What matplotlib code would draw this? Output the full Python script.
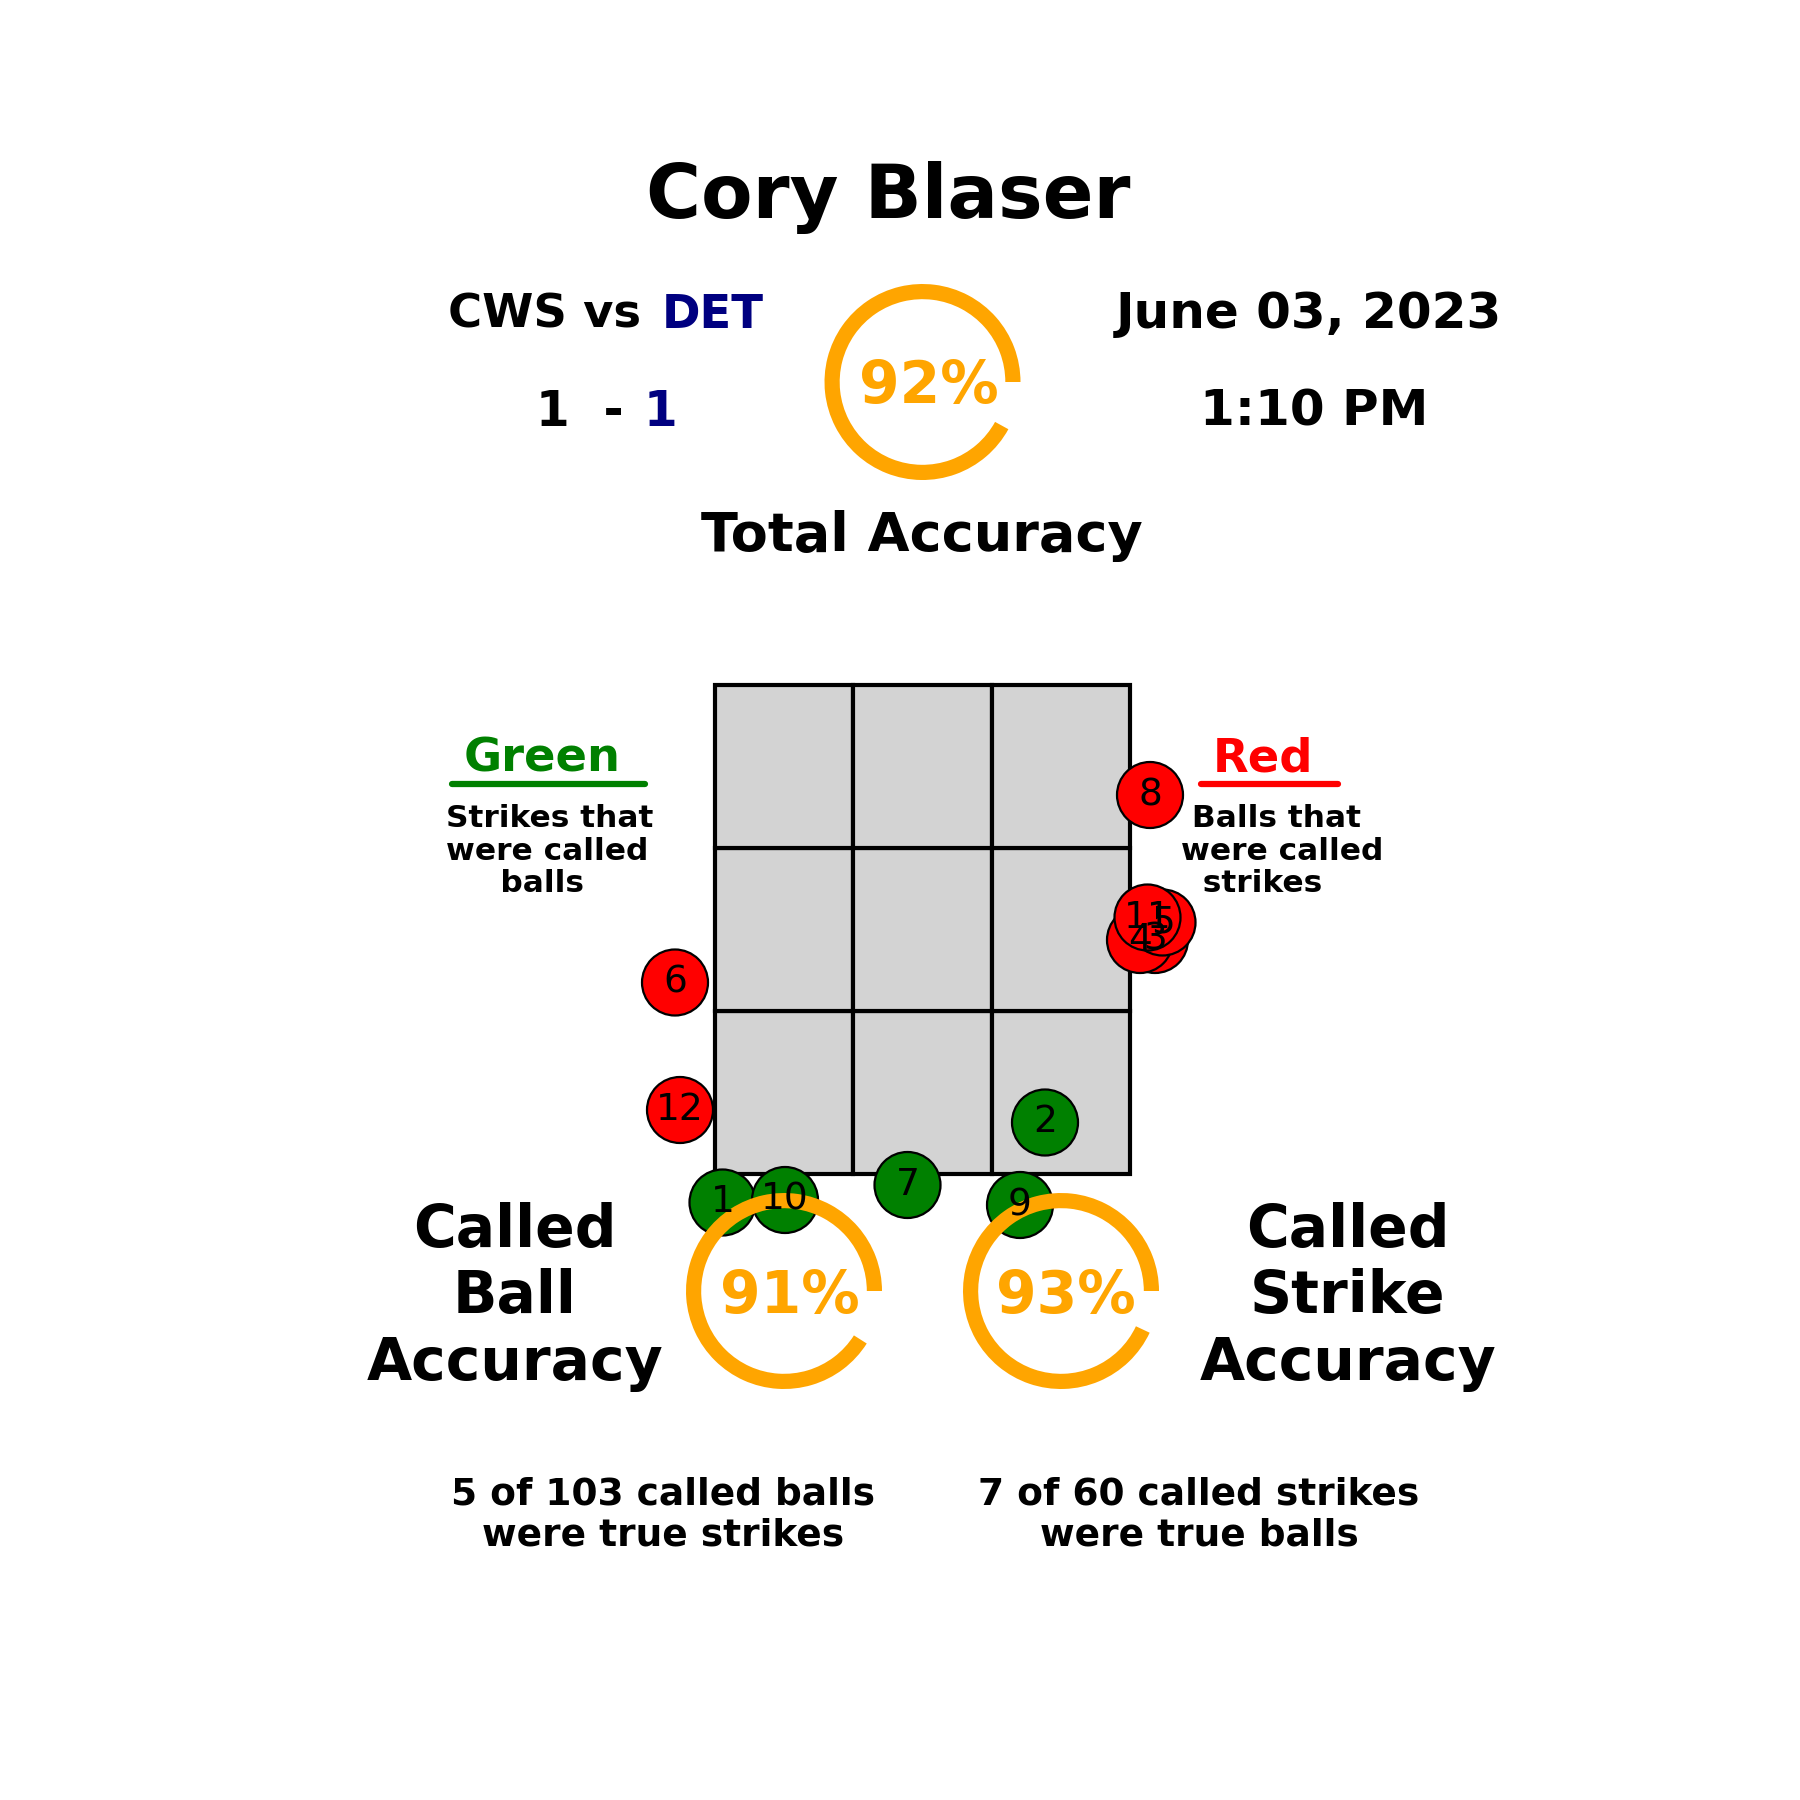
import matplotlib
matplotlib.use("Agg")
import matplotlib.pyplot as plt
from matplotlib.patches import Rectangle, Circle

# ---------------- data ----------------
umpire = "Cory Blaser"
away_team, home_team = "CWS", "DET"
away_score, home_score = 1, 1
game_date = "June 03, 2023"
game_time = "1:10 PM"

total_accuracy = 92
ball_accuracy = 91
strike_accuracy = 93
balls_wrong, balls_total = 5, 103
strikes_wrong, strikes_total = 7, 60

# missed calls (plate_x, plate_z in feet), numbered in order
pitch_ids = [1, 2, 3, 4, 5, 6, 7, 8, 9, 10, 11, 12]
plate_x = [-0.80, 0.49, 0.93, 0.87, 0.96, -0.99, -0.06, 0.91, 0.39, -0.55, 0.90, -0.97]
plate_z = [1.43, 1.75, 2.48, 2.48, 2.55, 2.31, 1.50, 3.06, 1.42, 1.44, 2.57, 1.80]
miss_type = ["S", "S", "B", "B", "B", "B", "S", "B", "S", "S", "B", "B"]  # S: true strike called ball

sz_left, sz_right = -0.83, 0.83
sz_bot, sz_top = 1.544, 3.50

# ---------------- figure ----------------
W = H = 1800
fig = plt.figure(figsize=(18, 18), dpi=100)
fig.patch.set_facecolor("white")


def fx(x):
    return x / W


def fy(y):
    return 1 - y / H


ORANGE = "#ffa500"
NAVY = "#000080"
GREEN = "#008000"
RED = "#ff0000"

# main strike-zone axes: 250 px per foot, centred on the plate
cx_px, ztop_px = 922.5, 685
ppf = 250.0
xlim = (-2.0, 2.0)
ylim = (0.5, 4.5)
ax_left = cx_px + xlim[0] * ppf
ax_top = ztop_px - (ylim[1] - sz_top) * ppf
ax_w = (xlim[1] - xlim[0]) * ppf
ax_h = (ylim[1] - ylim[0]) * ppf
rect = [fx(ax_left), fy(ax_top + ax_h), ax_w / W, ax_h / H]
ax = fig.add_axes(rect)
ax.set_xlim(*xlim)
ax.set_ylim(*ylim)
ax.set_aspect("equal")
ax.axis("off")

dx = (sz_right - sz_left) / 3
dz = (sz_top - sz_bot) / 3
for i in range(3):
    for j in range(3):
        ax.add_patch(Rectangle((sz_left + i * dx, sz_bot + j * dz), dx, dz,
                               facecolor="#d3d3d3", edgecolor="black", lw=3, zorder=1))

for x, z, t in zip(plate_x, plate_z, miss_type):
    ax.add_patch(Circle((x, z), 0.132, facecolor=GREEN if t == "S" else RED,
                        edgecolor="black", lw=1.6, zorder=2))

# accuracy rings


def ring(cx, cy, pct, r=98):
    a = fig.add_axes([fx(cx - r), fy(cy + r), 2 * r / W, 2 * r / H])
    a.pie([pct, 100 - pct], colors=[ORANGE, "none"], startangle=0,
          counterclock=True, radius=1, wedgeprops=dict(width=0.155, linewidth=0))
    a.set_xlim(-1, 1)
    a.set_ylim(-1, 1)
    a.set_aspect("equal")
    a.axis("off")
    return a


ring(922.5, 382, total_accuracy)
ring(784, 1291, ball_accuracy)
ring(1061, 1291, strike_accuracy)

# label overlay for the pitch numbers
ax2 = fig.add_axes(rect)
ax2.set_xlim(*xlim)
ax2.set_ylim(*ylim)
ax2.set_aspect("equal")
ax2.axis("off")
ax2.patch.set_alpha(0)
for pid, x, z in zip(pitch_ids, plate_x, plate_z):
    ax2.text(x, z, str(pid), ha="center", va="center", fontsize=27, color="black")

# ---------------- texts ----------------
B = dict(fontweight="bold", family="DejaVu Sans")
fig.text(fx(888), fy(218), umpire, ha="center", va="baseline", fontsize=54, **B)

fig.text(fx(641), fy(328), f"{away_team} vs", ha="right", va="baseline", fontsize=33.5, **B)
fig.text(fx(662), fy(328), home_team, ha="left", va="baseline", fontsize=33.5, color=NAVY, **B)
fig.text(fx(624), fy(426), f"{away_score}  -", ha="right", va="baseline", fontsize=35, **B)
fig.text(fx(644), fy(426), f"{home_score}", ha="left", va="baseline", fontsize=35, color=NAVY, **B)

fig.text(fx(1309), fy(328), game_date, ha="center", va="baseline", fontsize=36, **B)
fig.text(fx(1314), fy(426), game_time, ha="center", va="baseline", fontsize=36, **B)

fig.text(fx(922), fy(551), "Total Accuracy", ha="center", va="baseline", fontsize=39, **B)

fig.text(fx(929), fy(386), f"{total_accuracy}%", ha="center", va="center", fontsize=42, color=ORANGE, **B)
fig.text(fx(790), fy(1296), f"{ball_accuracy}%", ha="center", va="center", fontsize=42, color=ORANGE, **B)
fig.text(fx(1066), fy(1296), f"{strike_accuracy}%", ha="center", va="center", fontsize=42, color=ORANGE, **B)

# legend blocks
fig.text(fx(542), fy(771), "Green", ha="center", va="baseline", fontsize=33.5, color=GREEN, **B)
fig.add_artist(plt.Line2D([fx(452), fx(645)], [fy(784), fy(784)], color=GREEN, lw=4.5,
                          solid_capstyle="round"))
fig.text(fx(446), fy(804), "Strikes that\nwere called\n     balls", ha="left", va="top",
         multialignment="left", fontsize=22.5, linespacing=1.16, **B)

fig.text(fx(1263), fy(771), "Red", ha="center", va="baseline", fontsize=33.5, color=RED, **B)
fig.add_artist(plt.Line2D([fx(1201), fx(1338)], [fy(784), fy(784)], color=RED, lw=4.5,
                          solid_capstyle="round"))
fig.text(fx(1181), fy(804), " Balls that\nwere called\n  strikes", ha="left", va="top",
         multialignment="left", fontsize=22.5, linespacing=1.16, **B)

fig.text(fx(515), fy(1297), "Called\nBall\nAccuracy", ha="center", va="center",
         fontsize=42, linespacing=1.22, **B)
fig.text(fx(1348), fy(1297), "Called\nStrike\nAccuracy", ha="center", va="center",
         fontsize=42, linespacing=1.22, **B)

fig.text(fx(663), fy(1515), f"{balls_wrong} of {balls_total} called balls\nwere true strikes",
         ha="center", va="center", fontsize=27, linespacing=1.2, **B)
fig.text(fx(1199), fy(1515), f"{strikes_wrong} of {strikes_total} called strikes\nwere true balls",
         ha="center", va="center", fontsize=27, linespacing=1.2, **B)

fig.savefig("out.png", dpi=100, facecolor="white")
